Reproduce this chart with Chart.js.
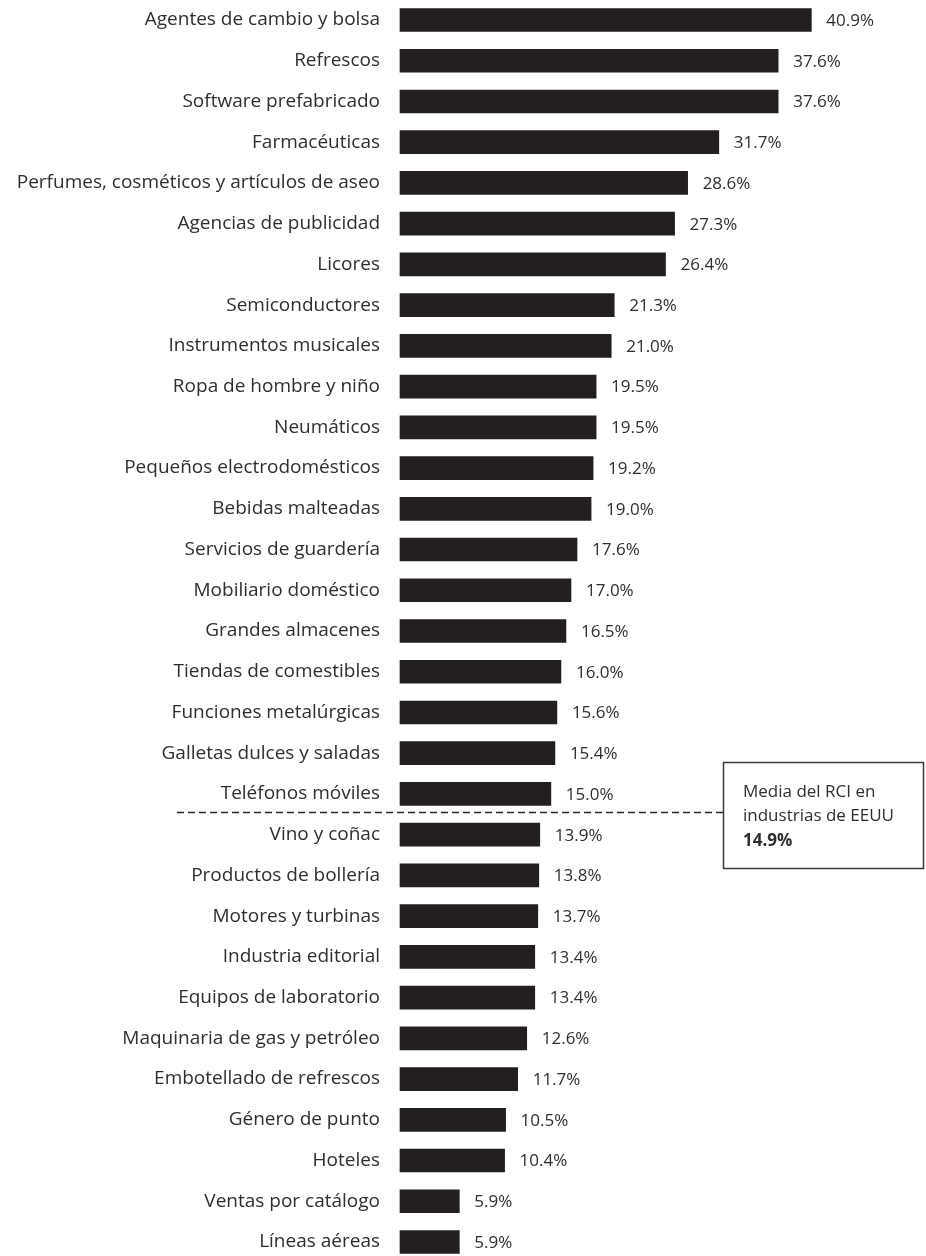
<!DOCTYPE html>
<html>
<head>
<meta charset="utf-8">
<script src="https://cdn.jsdelivr.net/npm/chart.js@4"></script>
<style>
html,body{margin:0;padding:0;background:#fff;}
#wrap{width:926px;height:1256px;position:relative;}
</style>
</head>
<body>
<div id="wrap"><canvas id="c" width="926" height="1256"></canvas></div>
<script>
const categories = [
  "Agentes de cambio y bolsa","Refrescos","Software prefabricado","Farmacéuticas",
  "Perfumes, cosméticos y artículos de aseo","Agencias de publicidad","Licores",
  "Semiconductores","Instrumentos musicales","Ropa de hombre y niño","Neumáticos",
  "Pequeños electrodomésticos","Bebidas malteadas","Servicios de guardería",
  "Mobiliario doméstico","Grandes almacenes","Tiendas de comestibles",
  "Funciones metalúrgicas","Galletas dulces y saladas","Teléfonos móviles",
  "Vino y coñac","Productos de bollería","Motores y turbinas","Industria editorial",
  "Equipos de laboratorio","Maquinaria de gas y petróleo","Embotellado de refrescos",
  "Género de punto","Hoteles","Ventas por catálogo","Líneas aéreas"
];
const values = [40.9,37.6,37.6,31.7,28.6,27.3,26.4,21.3,21.0,19.5,19.5,19.2,19.0,17.6,17.0,16.5,16.0,15.6,15.4,15.0,13.9,13.8,13.7,13.4,13.4,12.6,11.7,10.5,10.4,5.9,5.9];
const meanValue = 14.9;
const meanLines = ["Media del RCI en","industrias de EEUU"];

const FONT = "'Open Sans'";
const TEXT = "#2e2e2e";
const BAR = "#231f20";

const valueLabels = {
  id:'valueLabels',
  afterDatasetsDraw(chart){
    const ctx = chart.ctx;
    const meta = chart.getDatasetMeta(0);
    ctx.save();
    ctx.font = "17px " + FONT;
    ctx.fillStyle = TEXT;
    ctx.textBaseline = "middle";
    ctx.textAlign = "left";
    meta.data.forEach((el,i)=>{
      ctx.fillText(values[i].toFixed(1) + "%", el.x + 15, el.y + 1);
    });
    ctx.restore();
  }
};

const meanMarker = {
  id:'meanMarker',
  afterDraw(chart){
    const ctx = chart.ctx;
    const ys = chart.scales.y;
    let idx = values.findIndex(v => v < meanValue);
    const y = Math.round((ys.getPixelForValue(idx-1) + ys.getPixelForValue(idx)) / 2) - 1.5;
    ctx.save();
    ctx.strokeStyle = "#2a2a2a";
    ctx.lineWidth = 1.6;
    ctx.setLineDash([7,4]);
    ctx.beginPath();
    ctx.moveTo(177, y);
    ctx.lineTo(723, y);
    ctx.stroke();
    ctx.setLineDash([]);
    ctx.lineWidth = 1.5;
    ctx.strokeStyle = "#3a3a3a";
    ctx.strokeRect(723.5, 762.5, 200, 106);
    ctx.fillStyle = TEXT;
    ctx.textBaseline = "middle";
    ctx.textAlign = "left";
    ctx.font = "17px " + FONT;
    ctx.fillText(meanLines[0], 743, 792);
    ctx.fillText(meanLines[1], 743, 816);
    ctx.font = "bold 17px " + FONT;
    ctx.fillText(meanValue.toFixed(1) + "%", 743, 841);
    ctx.restore();
  }
};

new Chart(document.getElementById('c'), {
  type:'bar',
  data:{
    labels: categories,
    datasets:[{
      data: values,
      backgroundColor: BAR,
      borderWidth: 0,
      barThickness: 23,
      clip: false
    }]
  },
  options:{
    indexAxis:'y',
    responsive:false,
    animation:false,
    layout:{padding:{top:20,bottom:14,left:0,right:0}},
    plugins:{legend:{display:false},tooltip:{enabled:false}},
    scales:{
      x:{display:false,min:0,max:52.3},
      y:{
        offset:false,
        grid:{display:false,drawTicks:false},
        border:{display:false},
        ticks:{
          autoSkip:false,
          color:TEXT,
          padding:20,
          font:{family:"Open Sans",size:19}
        },
        afterFit(scale){
          scale.width = 400;
          scale.paddingTop = 0;
          scale.paddingBottom = 0;
        }
      }
    }
  },
  plugins:[valueLabels, meanMarker]
});
</script>
</body>
</html>
